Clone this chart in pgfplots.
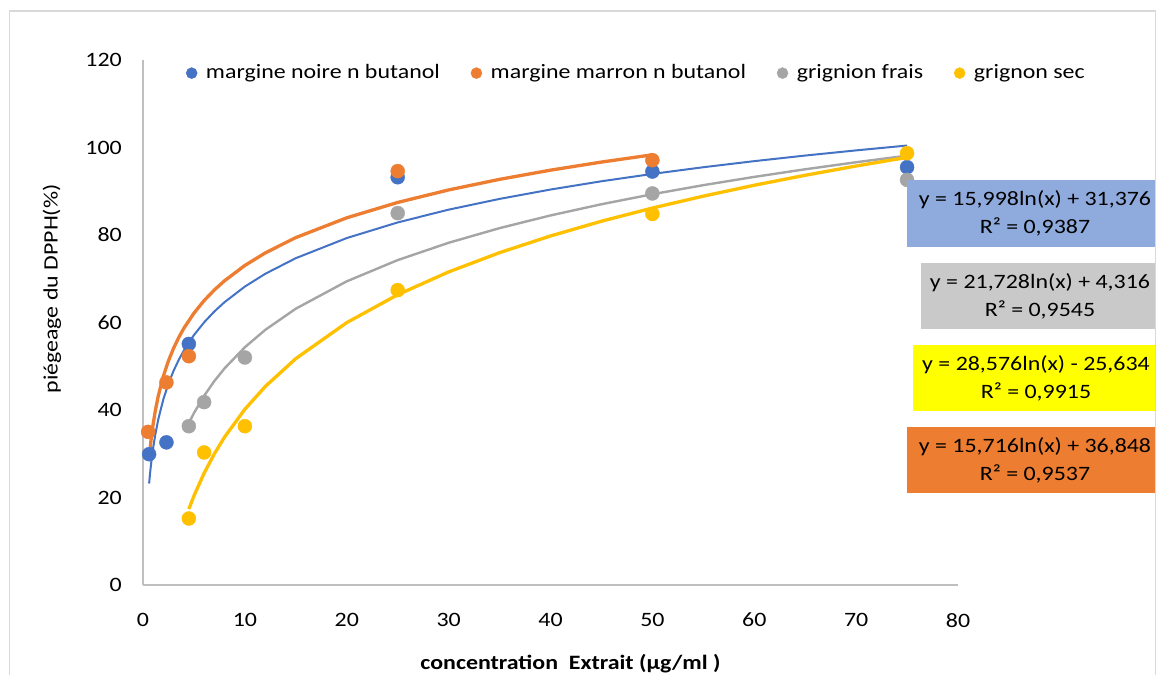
\documentclass[border=0pt]{standalone}
\usepackage{fontspec}
\setmainfont{Carlito}[FakeStretch=1.17]
\usepackage{pgfplots}
\pgfplotsset{compat=1.18}
\definecolor{cblue}{HTML}{4472C4}
\definecolor{corange}{HTML}{ED7D31}
\definecolor{cgray}{HTML}{A5A5A5}
\definecolor{cyellow}{HTML}{FFC000}
\definecolor{boxblue}{HTML}{8FAADC}
\definecolor{boxgray}{HTML}{C9C9C9}
\definecolor{boxyellow}{HTML}{FFFF00}
\definecolor{axisgray}{HTML}{BFBFBF}
\definecolor{framegray}{HTML}{D9D9D9}
\begin{document}
\fontsize{20.5}{24}\selectfont
\begin{tikzpicture}
\useasboundingbox (0,0) rectangle (1158bp,675bp);
\fill[white] (0,0) rectangle (1158bp,675bp);
\begin{axis}[
  at={(143bp,90bp)}, anchor=south west,
  scale only axis, width=815bp, height=525bp,
  xmin=0, xmax=80, ymin=0, ymax=120,
  xtick={0,10,...,80}, ytick={0,20,...,120},
  axis x line=bottom, axis y line=left,
  every outer x axis line/.append style={-},
  every outer y axis line/.append style={-},
  axis line style={draw=axisgray, line width=1.5bp, -},
  major tick length=0pt,
  /pgf/number format/assume math mode=true,
  tick label style={font=\fontsize{20.5}{24}\selectfont, text=black},
  yticklabel style={anchor=east, inner sep=0pt, xshift=-21bp},
  xticklabel style={anchor=north, inner sep=0pt, yshift=-28bp},
  xlabel={\bfseries concentration\ \ Extrait (µg/ml\ )},
  ylabel={piégeage du DPPH(\%)},
  every axis x label/.style={at={(rel axis cs:0.5245,-0.1619)}, anchor=base},
  every axis y label/.style={at={(rel axis cs:-0.1117,0.5638)}, anchor=center, rotate=90},
  clip=false,
  legend columns=4,
  legend image code/.code={\draw[#1, mark size=5.5bp] plot coordinates {(5.5bp,0bp)};},
  legend style={at={(rel axis cs:0.053,0.975)}, anchor=west, draw=none, fill=none,
    inner sep=0pt, outer sep=0pt, nodes={inner sep=0pt},
    font=\fontsize{20.5}{24}\selectfont,
    /tikz/every odd column/.append style={column sep=8.8bp},
    /tikz/every even column/.append style={column sep=31bp}},
]
% trendlines
\addplot[forget plot, corange, line width=3.3bp] coordinates {(0.6,28.82)(0.7,31.24)(0.8,33.34)(1,36.85)(1.2,39.71)(1.5,43.22)(2,47.74)(2.5,51.25)(3,54.11)(3.5,56.54)(4,58.64)(5,62.14)(6,65.01)(7,67.43)(8,69.53)(10,73.04)(12,75.90)(15,79.41)(20,83.93)(25,87.44)(30,90.30)(35,92.72)(40,94.82)(45,96.67)(50,98.33)};
\addplot[forget plot, cgray, line width=2.4bp] coordinates {(4.5,37.00)(5,39.29)(6,43.25)(7,46.60)(8,49.50)(10,54.35)(12,58.31)(15,63.16)(20,69.41)(25,74.26)(30,78.22)(35,81.57)(40,84.47)(45,87.03)(50,89.32)(55,91.39)(60,93.28)(65,95.02)(70,96.63)(75,98.13)};
\addplot[forget plot, cyellow, line width=3.3bp] coordinates {(4.5,17.35)(5,20.36)(6,25.57)(7,29.97)(8,33.79)(10,40.17)(12,45.37)(15,51.75)(20,59.97)(25,66.35)(30,71.56)(35,75.96)(40,79.78)(45,83.15)(50,86.16)(55,88.88)(60,91.37)(65,93.65)(70,95.77)(75,97.74)};
\addplot[forget plot, cblue, line width=2bp] coordinates {(0.6,23.20)(0.7,25.67)(0.8,27.81)(1,31.38)(1.2,34.29)(1.5,37.86)(2,42.47)(2.5,46.04)(3,48.95)(3.5,51.42)(4,53.56)(5,57.12)(6,60.04)(7,62.51)(8,64.64)(10,68.21)(12,71.13)(15,74.70)(20,79.30)(25,82.87)(30,85.79)(35,88.25)(40,90.39)(45,92.28)(50,93.96)(55,95.49)(60,96.88)(65,98.16)(70,99.34)(75,100.45)};
% data points
\addplot[only marks, mark=*, mark size=7bp, cblue] coordinates {(0.6,29.9)(2.3,32.6)(4.5,55.1)(25,93.2)(50,94.5)(75,95.5)};
\addlegendentry{margine noire n butanol}
\addplot[only marks, mark=*, mark size=7bp, corange] coordinates {(0.5,35.0)(2.3,46.3)(4.5,52.3)(25,94.6)(50,97.1)};
\addlegendentry{margine marron n butanol}
\addplot[only marks, mark=*, mark size=7bp, cgray] coordinates {(4.5,36.3)(6,41.8)(10,52.0)(25,85.0)(50,89.5)(75,92.6)};
\addlegendentry{grignion frais}
\addplot[only marks, mark=*, mark size=7bp, cyellow] coordinates {(4.5,15.2)(6,30.3)(10,36.3)(25,67.4)(50,84.8)(75,98.7)};
\addlegendentry{grignon sec}
\end{axis}
% equation boxes
\fill[boxblue] (907bp,428bp) rectangle (1155bp,495bp);
\node[align=center, inner sep=0pt, font=\fontsize{20.5}{28}\selectfont] at (1035bp,461.5bp) {y = 15,998ln(x) + 31,376\\R² = 0,9387};
\fill[boxgray] (921bp,346bp) rectangle (1155bp,412bp);
\node[align=center, inner sep=0pt, font=\fontsize{20.5}{28}\selectfont] at (1040bp,379bp) {y = 21,728ln(x) + 4,316\\R² = 0,9545};
\fill[boxyellow] (913bp,264bp) rectangle (1155bp,330bp);
\node[align=center, inner sep=0pt, font=\fontsize{20.5}{28}\selectfont] at (1036bp,297bp) {y = 28,576ln(x) - 25,634\\R² = 0,9915};
\fill[corange] (907bp,182bp) rectangle (1155bp,248bp);
\node[align=center, inner sep=0pt, font=\fontsize{20.5}{28}\selectfont] at (1035bp,215bp) {y = 15,716ln(x) + 36,848\\R² = 0,9537};
% outer frame
\draw[framegray, line width=1.5bp] (9.5bp,0) -- (9.5bp,664bp) -- (1155.5bp,664bp) -- (1155.5bp,0);
\end{tikzpicture}
\end{document}
